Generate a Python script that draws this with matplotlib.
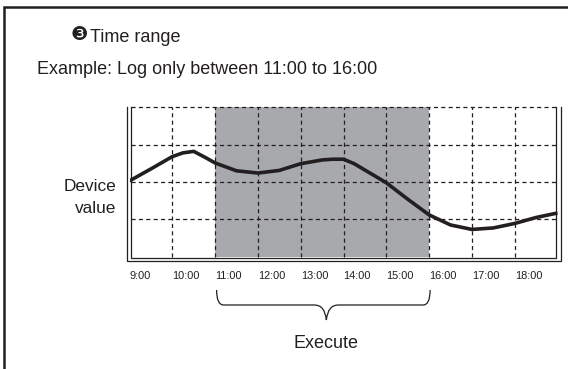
import matplotlib
matplotlib.use("Agg")
import matplotlib.pyplot as plt
from matplotlib.lines import Line2D
from matplotlib.path import Path
from matplotlib.patches import PathPatch
from matplotlib.transforms import IdentityTransform

# ---- data ----
hours = [9.0, 9.5, 10.0, 10.25, 10.5, 10.75, 11.0, 11.5, 12.0, 12.5, 13.0, 13.5,
         13.75, 14.0, 14.25, 14.5, 15.0, 15.5, 16.0, 16.5, 17.0, 17.5, 18.0, 18.5, 19.0]
device_value = [2.03, 2.35, 2.68, 2.78, 2.82, 2.67, 2.51, 2.30, 2.24, 2.31, 2.49, 2.59,
                2.61, 2.61, 2.49, 2.32, 1.98, 1.54, 1.12, 0.85, 0.73, 0.77, 0.89, 1.05, 1.17]
tick_hours = [9, 10, 11, 12, 13, 14, 15, 16, 17, 18]
tick_labels = ["9:00", "10:00", "11:00", "12:00", "13:00", "14:00", "15:00",
               "16:00", "17:00", "18:00"]
grid_hours = [10, 11, 12, 13, 14, 15, 16, 17, 18]
grid_levels = [1, 2, 3, 4]
execute_start = 11
execute_end = 16

INK = "#231f20"
SHADE = "#a7a9ac"
W, H = 568, 369

fig = plt.figure(figsize=(W / 100, H / 100), dpi=100)
fig.patch.set_facecolor("white")

# axes (data area)
ax_l, ax_r, ax_t, ax_b = 129.5, 557.5, 107.3, 256.7
ax = fig.add_axes([ax_l / W, 1 - ax_b / H, (ax_r - ax_l) / W, (ax_b - ax_t) / H])
ax.set_xlim(9, 19)
ax.set_ylim(0, 4)
for s in ax.spines.values():
    s.set_visible(False)
ax.set_yticks([])
ax.set_facecolor("none")

# shading
ax.axvspan(execute_start, execute_end, ymin=0, ymax=1, color=SHADE, lw=0, zorder=1)

# grid
lw_grid = 0.9
dash = (0, (3.3, 2.6))
for g in grid_hours:
    ax.plot([g, g], [0, 4], color=INK, lw=lw_grid, ls=dash, zorder=2, clip_on=False)
for lv in grid_levels:
    ax.plot([9.04, 18.96], [lv, lv], color=INK, lw=lw_grid, ls=dash, zorder=2, clip_on=False)

# curve
ax.plot(hours, device_value, color=INK, lw=2.6, solid_joinstyle="round",
        solid_capstyle="butt", zorder=4)

# double border (left, bottom, right)
pxx = 1 / (ax_r - ax_l)
pxy = 1 / (ax_b - ax_t)
inner = dict(l=(131 - ax_l) * pxx, r=(556 - ax_l) * pxx, b=-(258 - ax_b) * pxy)
outer = dict(l=(126.7 - ax_l) * pxx, r=(560.7 - ax_l) * pxx, b=-(261 - ax_b) * pxy)
for d in (inner, outer):
    ax.add_line(Line2D([d["l"], d["l"], d["r"], d["r"]], [1, d["b"], d["b"], 1],
                       transform=ax.transAxes, color=INK, lw=0.9, clip_on=False,
                       zorder=5, solid_joinstyle="miter"))

# tick labels
ax.set_xticks(tick_hours)
ax.set_xticklabels(tick_labels, ha="left", fontsize=7.9,
                   family=["Liberation Sans Narrow", "Liberation Sans", "DejaVu Sans"],
                   color=INK)
ax.tick_params(axis="x", length=0, pad=10.0)

# texts
FONT = ["Liberation Sans", "DejaVu Sans"]
fig.text(71 / W, 1 - 40.5 / H, "\u2778", fontsize=14, family=["DejaVu Sans"],
         color=INK, va="baseline", ha="left")
fig.text(90 / W, 1 - 41.7 / H, "Time range", fontsize=13, family=FONT,
         color=INK, va="baseline", ha="left")
fig.text(36.7 / W, 1 - 74 / H, "Example: Log only between 11:00 to 16:00", fontsize=13,
         family=FONT, color=INK, va="baseline", ha="left")
fig.text(116 / W, 1 - 190.7 / H, "Device", fontsize=12.4, family=FONT, color=INK,
         va="baseline", ha="right")
fig.text(116 / W, 1 - 212.7 / H, "value", fontsize=12.4, family=FONT, color=INK,
         va="baseline", ha="right")

# brace under execute range
x0 = ax.transData.transform((execute_start, 0))[0] + 1.5
x1 = ax.transData.transform((execute_end, 0))[0] + 1.0
xm = (x0 + x1) / 2 + 3
yt, yh, ytip = H - 290, H - 305, H - 320
verts = [(x0, yt), (x0, yh), (x0 + 7, yh), (xm - 12, yh), (xm - 1.5, yh), (xm, ytip),
         (xm + 1.5, yh), (xm + 12, yh), (x1 - 7, yh), (x1, yh), (x1, yt)]
codes = [Path.MOVETO, Path.CURVE3, Path.CURVE3, Path.LINETO, Path.CURVE3, Path.CURVE3,
         Path.CURVE3, Path.CURVE3, Path.LINETO, Path.CURVE3, Path.CURVE3]
fig.add_artist(PathPatch(Path(verts, codes), transform=IdentityTransform(),
                         fill=False, edgecolor=INK, lw=0.9))
fig.text(xm / W, 1 - 348 / H, "Execute", fontsize=13, family=FONT, color=INK,
         va="baseline", ha="center")

# outer frame (left and top)
fig.add_artist(Line2D([3.8 / W, 3.8 / W, 1.0], [0, 1 - 7.2 / H, 1 - 7.2 / H],
                      transform=fig.transFigure, color=INK, lw=1.8,
                      solid_joinstyle="miter"))

fig.savefig("out.png", dpi=100, facecolor="white")
